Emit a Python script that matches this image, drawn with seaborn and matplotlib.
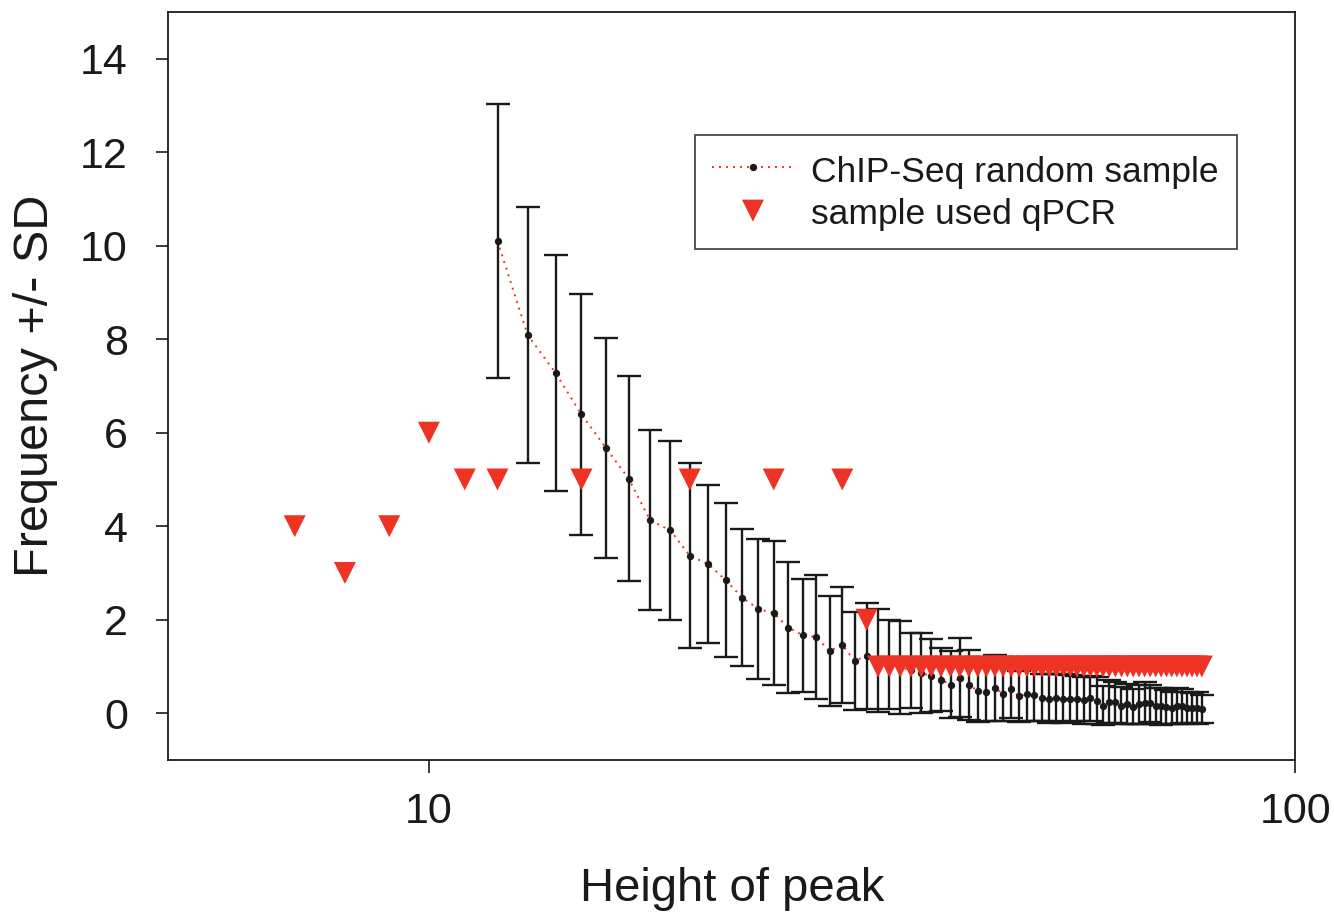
import matplotlib
matplotlib.use("Agg")
import matplotlib.pyplot as plt
import seaborn as sns
import pandas as pd

# ChIP-Seq random sample: peak height, mean frequency, SD
peak_height = [12, 13, 14, 15, 16, 17, 18, 19, 20, 21, 22, 23, 24, 25, 26, 27, 28, 29, 30,
               31, 32, 33, 34, 35, 36, 37, 38, 39, 40, 41, 42, 43, 44, 45, 46, 47, 48, 49, 50,
               51, 52, 53, 54, 55, 56, 57, 58, 59, 60, 61, 62, 63, 64, 65, 66, 67, 68, 69, 70,
               71, 72, 73, 74, 75, 76, 77, 78]
freq_mean = [10.1, 8.09, 7.28, 6.39, 5.68, 5.02, 4.13, 3.91, 3.37, 3.19, 2.85, 2.47, 2.23, 2.14,
             1.83, 1.67, 1.63, 1.33, 1.46, 1.12, 1.23, 1.12, 1.05, 0.98, 0.92, 0.86, 0.80, 0.72,
             0.61, 0.76, 0.61, 0.48, 0.46, 0.54, 0.42, 0.51, 0.36, 0.42, 0.39, 0.33, 0.31, 0.33,
             0.31, 0.31, 0.31, 0.28, 0.32, 0.27, 0.16, 0.25, 0.23, 0.16, 0.20, 0.14, 0.19, 0.22,
             0.21, 0.15, 0.15, 0.14, 0.11, 0.16, 0.16, 0.12, 0.11, 0.12, 0.09]
freq_sd = [2.93, 2.74, 2.53, 2.58, 2.35, 2.2, 1.92, 1.92, 1.98, 1.69, 1.65, 1.47, 1.5, 1.54,
           1.4, 1.21, 1.32, 1.18, 1.24, 1.05, 1.13, 1.1, 0.95, 1.0, 0.8, 0.85, 0.78, 0.68,
           0.72, 0.85, 0.75, 0.66, 0.62, 0.7, 0.58, 0.62, 0.55, 0.58, 0.56, 0.5, 0.52, 0.5,
           0.52, 0.5, 0.48, 0.5, 0.48, 0.5, 0.42, 0.46, 0.44, 0.4, 0.42, 0.38, 0.42, 0.44,
           0.4, 0.38, 0.4, 0.36, 0.34, 0.38, 0.36, 0.34, 0.32, 0.34, 0.3]

# samples used for qPCR
qpcr_height = [7, 8, 9, 10, 11, 12, 15, 20, 25, 30, 32,
               33, 34, 35, 36, 37, 38, 39, 40, 41, 42, 43, 44, 45, 46, 47, 48, 49, 50,
               51, 52, 53, 54, 55, 56, 57, 58, 59, 60, 61, 62, 63, 64, 65, 66, 67, 68, 69, 70,
               71, 72, 73, 74, 75, 76, 77, 78]
qpcr_freq = [4, 3, 4, 6, 5, 5, 5, 5, 5, 5, 2,
             1, 1, 1, 1, 1, 1, 1, 1, 1, 1, 1, 1, 1, 1, 1, 1, 1, 1,
             1, 1, 1, 1, 1, 1, 1, 1, 1, 1, 1, 1, 1, 1, 1, 1, 1, 1, 1, 1,
             1, 1, 1, 1, 1, 1, 1, 1]

df_rand = pd.DataFrame({"height": peak_height, "mean": freq_mean, "sd": freq_sd})
df_qpcr = pd.DataFrame({"height": qpcr_height, "freq": qpcr_freq})

sns.set_theme(style="ticks")
plt.rcParams["font.family"] = ["Liberation Sans", "DejaVu Sans"]
red = "#ee3224"
ink = "#1a1a1a"

fig = plt.figure(figsize=(13.34, 9.13), dpi=100)
ax = fig.add_axes([0.126, 0.1676, 0.845, 0.8193])

ax.errorbar(df_rand["height"], df_rand["mean"], yerr=df_rand["sd"], fmt="none",
            ecolor=ink, elinewidth=1.7, capsize=8.7, capthick=1.7, zorder=2)
sns.lineplot(data=df_rand, x="height", y="mean", ax=ax, color=red, linewidth=1.4,
             linestyle=(0, (1, 2.6)), marker="o", markersize=4.5,
             markerfacecolor=ink, markeredgecolor=ink,
             label="ChIP-Seq random sample", zorder=3)
sns.scatterplot(data=df_qpcr, x="height", y="freq", ax=ax, marker="v", s=250,
                color=red, edgecolor="none", linewidth=0,
                label="sample used qPCR", zorder=4)

ax.set_xscale("log")
ax.set_xlim(5, 100)
ax.set_ylim(-1, 15)
ax.set_xticks([10, 100])
ax.set_xticklabels(["10", "100"])
ax.minorticks_off()
ax.set_yticks([0, 2, 4, 6, 8, 10, 12, 14])
ax.tick_params(axis="both", direction="out", length=9, width=1.2, labelsize=31,
               colors=ink)
ax.tick_params(axis="y", pad=20)
ax.tick_params(axis="x", pad=14)
for sp in ax.spines.values():
    sp.set_visible(True)
    sp.set_linewidth(1.3)
    sp.set_color(ink)

ax.set_xlabel("Height of peak", fontsize=34, color=ink, labelpad=25)
ax.set_ylabel("Frequency +/- SD", fontsize=35, color=ink, labelpad=16)

leg = ax.legend(loc="upper left", bbox_to_anchor=(0.467, 0.836), borderaxespad=0,
                fontsize=25.5, frameon=True, fancybox=False, edgecolor=ink,
                handlelength=2.3, handletextpad=0.5, labelspacing=0.15,
                handleheight=1.15, borderpad=0.5, markerscale=1.0)
leg.get_frame().set_linewidth(1.3)
for t in leg.get_texts():
    t.set_color(ink)

fig.savefig("out.png", dpi=100)
